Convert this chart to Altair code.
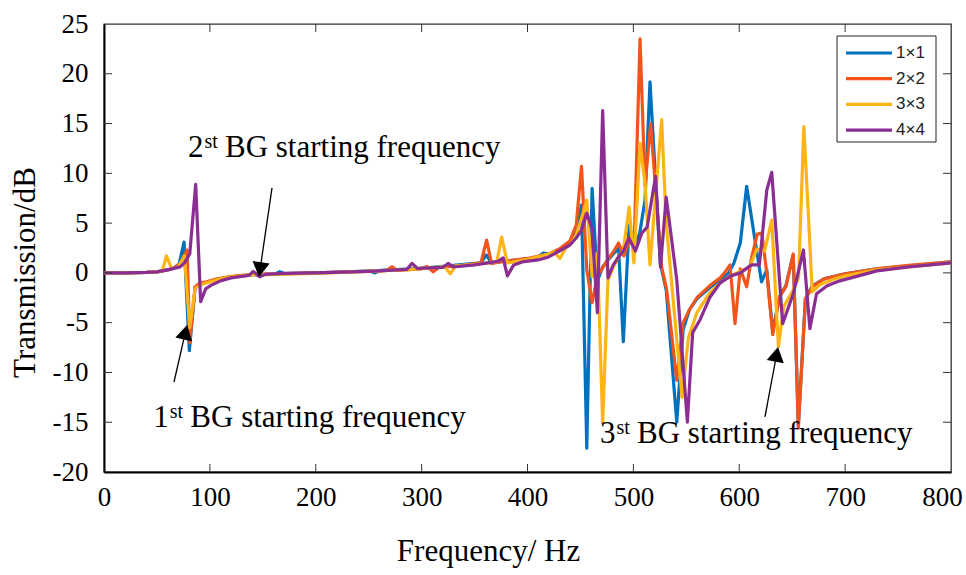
import altair as alt
import pandas as pd

series_names = ["1×1", "2×2", "3×3", "4×4"]
series_colors = ["#0072BD", "#F2541B", "#FDB515", "#8A2E93"]

# (frequency Hz, transmission dB)
pts_1x1 = [(0,0.0),(20,0.0),(40,0.05),(50,0.1),(60,0.3),(66,0.5),(71,0.9),(75.6,3.1),(80.6,-7.8),(86,-1.5),(91,-1.1),(97,-0.95),(105,-0.7),(115,-0.5),(125,-0.35),(140,-0.2),(161,-0.12),(166,0.12),(171,-0.08),(200,0.0),(230,0.1),(251,0.2),(256,0.0),(261,0.25),(300,0.45),(340,0.85),(356,1.0),(361,1.8),(366,1.0),(380,1.2),(400,1.4),(410,1.6),(415,2.0),(420,1.9),(430,2.3),(440,3.0),(446,4.2),(451,6.8),(456,-17.6),(461,8.5),(466,-0.8),(471,0.6),(476,1.3),(481,1.9),(486,2.5),(490.5,-6.9),(496,4.8),(501,2.5),(506,4.0),(511,7.3),(515.7,19.2),(525.5,0.9),(531,-1.7),(541,-15.0),(547,-5.7),(553,-3.7),(560,-2.6),(572,-1.5),(582,-0.7),(590,0.0),(595,1.0),(601,3.0),(607,8.7),(621,-0.9),(626,0.3),(631.6,-5.9),(638,-2.4),(644,-1.3),(651,1.8),(655.8,-15.3),(662.5,-2.6),(669,-1.3),(680,-0.6),(700,-0.1),(730,0.4),(760,0.7),(800,1.1)]

pts_2x2 = [(0,0.0),(20,0.0),(40,0.05),(50,0.1),(60,0.3),(66,0.5),(72,0.9),(78.5,2.3),(81,-7.0),(86,-1.4),(91,-1.0),(97,-0.9),(105,-0.65),(115,-0.45),(125,-0.3),(140,-0.15),(200,0.0),(230,0.1),(262,0.2),(267,0.25),(272,0.6),(277,0.25),(300,0.4),(305,0.65),(311,0.1),(316,0.55),(340,0.75),(356,1.0),(361.4,3.3),(366,0.95),(380,1.2),(400,1.45),(420,1.9),(430,2.4),(440,3.2),(446,4.8),(451,10.7),(456,0.3),(461,-3.0),(466,-0.3),(471.6,0.6),(476,1.4),(481,2.1),(486,3.0),(491,1.7),(496,3.2),(501,3.8),(506.3,23.5),(511,8.7),(516.3,15.0),(526.7,0.6),(531.5,-1.7),(541,-10.8),(547,-5.0),(553,-3.7),(560,-2.5),(572,-1.3),(582,-0.5),(586,0.0),(591.3,0.8),(596,-5.1),(601,0.4),(607,-1.4),(611.6,1.5),(617,3.9),(621.3,4.0),(626,0.0),(631.6,-6.2),(638,-2.4),(644,-1.4),(651,1.9),(655.8,-15.6),(662.5,-2.6),(669,-1.4),(680,-0.6),(700,-0.1),(730,0.4),(760,0.75),(800,1.1)]

pts_3x3 = [(0,0.0),(20,0.0),(40,0.05),(50,0.1),(55,0.2),(59,1.7),(64,0.4),(70,0.6),(76,1.7),(81,-5.5),(86,-1.6),(91,-1.2),(97,-1.0),(105,-0.75),(115,-0.5),(125,-0.35),(140,-0.2),(200,-0.05),(250,0.15),(290,0.35),(300,0.45),(322,0.6),(327,-0.1),(332,0.7),(350,0.85),(371,1.1),(375.6,3.6),(381,1.0),(400,1.35),(420,1.9),(425,2.1),(430.7,1.45),(436,2.5),(441,2.9),(446,3.8),(451,5.5),(456,7.3),(461,-0.4),(466,2.0),(471,-15.1),(476,-0.7),(481,0.6),(487,1.8),(490.5,2.3),(496,6.6),(500.5,1.0),(506.3,13.0),(511,9.0),(515.7,0.8),(526.7,15.4),(531,5.0),(546,-12.5),(552,-6.5),(560,-4.0),(572,-2.0),(582,-1.0),(590,-0.4),(600,0.1),(610,0.6),(616.6,2.4),(624,2.2),(630.7,5.3),(637,-7.4),(642,-3.4),(651,-1.7),(656,-0.5),(661,14.7),(669,-1.9),(676,-1.2),(690,-0.6),(700,-0.3),(730,0.3),(760,0.6),(800,1.0)]

pts_4x4 = [(0,0.0),(20,0.0),(40,0.05),(50,0.1),(60,0.3),(66,0.45),(72,0.6),(76,1.0),(81,1.9),(86.6,8.9),(91.3,-2.9),(96,-1.6),(101,-1.25),(110,-0.8),(120,-0.5),(130,-0.35),(137,-0.25),(141,0.15),(147,-0.4),(152,-0.15),(170,-0.05),(200,0.0),(250,0.15),(286,0.35),(291,0.95),(296,0.45),(320,0.55),(325,0.95),(330,0.6),(350,0.8),(372,1.15),(377,1.5),(381,-0.3),(387,0.8),(395,1.1),(410,1.3),(420,1.6),(430,2.2),(440,2.8),(446,3.5),(451,4.3),(456,6.0),(461,4.4),(466,-4.0),(471,16.3),(476,-0.5),(481,0.8),(486,1.6),(491,2.3),(495.6,3.5),(502,2.2),(508,4.0),(513,4.6),(521,9.7),(525.6,0.6),(531,7.6),(541,-0.7),(551,-15.0),(556,-6.0),(563,-4.7),(572,-2.5),(582,-1.0),(592,-0.3),(601,0.0),(611.6,0.8),(619,0.8),(626,8.3),(630.7,10.1),(641,-5.1),(651,-2.1),(660.6,2.3),(666.7,-5.6),(673,-2.1),(683,-1.3),(695,-0.8),(730,0.2),(760,0.6),(800,1.0)]

series_points = [pts_1x1, pts_2x2, pts_3x3, pts_4x4]

x_ticks = [0, 100, 200, 300, 400, 500, 600, 700, 800]
y_ticks = [-20, -15, -10, -5, 0, 5, 10, 15, 20, 25]

# annotations (data coordinates)
ann_num = ["1", "2", "3"]
ann_x = [46.6, 79.3, 468.5]
ann_y = [-15.45, 11.64, -17.12]
arrow_tail_x = [66.1, 158.7, 624.3]
arrow_tail_y = [-10.96, 8.53, -14.47]
arrow_head_x = [76.9, 147.4, 635.3]
arrow_head_y = [-5.96, 0.32, -8.18]
arrow_angle = [12.8, 188.3, 10.5]

W, H = 847, 448
SERIF = "Liberation Serif"

x_scale = alt.Scale(domain=[0, 800], nice=False, zero=False)
y_scale = alt.Scale(domain=[-20, 25], nice=False, zero=False)

x_axis = alt.Axis(values=x_ticks, title="Frequency/ Hz", ticks=False, grid=False,
                  labelFont=SERIF, labelFontSize=27, labelColor="black", labelPadding=12,
                  labelExpr="'' + datum.value", labelFlush=False,
                  labelOffset={"condition": {"test": "datum.value == 800", "value": -9}, "value": 0},
                  titleFont=SERIF, titleFontSize=31, titleFontWeight="normal", titleColor="black",
                  titleX=384, titleY=88, titleBaseline="alphabetic", titleAlign="center",
                  domainColor="black", domainWidth=2)
y_axis = alt.Axis(values=y_ticks, title="Transmission/dB", ticks=False, grid=False,
                  labelFont=SERIF, labelFontSize=27, labelColor="black", labelPadding=16,
                  labelExpr="'' + datum.value", labelFlush=False,
                  titleFont=SERIF, titleFontSize=31, titleFontWeight="normal", titleColor="black",
                  titleX=-70, titleY=248, titleAngle=270, titleBaseline="alphabetic", titleAlign="center",
                  domainColor="black", domainWidth=2)


def X(field):
    return alt.X(field, scale=x_scale, axis=x_axis)


def Y(field):
    return alt.Y(field, scale=y_scale, axis=y_axis)


layers = []
for name, color, pts in zip(series_names, series_colors, series_points):
    df = pd.DataFrame({"freq": [p[0] for p in pts], "tl": [p[1] for p in pts]})
    df["series"] = name
    layers.append(
        alt.Chart(df).mark_line(color=color, strokeWidth=3.2, strokeJoin="round").encode(
            x=X("freq:Q"), y=Y("tl:Q"))
    )

xt = pd.DataFrame({"v": x_ticks[1:-1]})
yt = pd.DataFrame({"v": y_ticks[1:-1]})
tick_color = "#333333"
layers.append(alt.Chart(xt).mark_rule(color=tick_color, strokeWidth=1).encode(
    x=X("v:Q"), y=alt.value(H), y2=alt.value(H - 8)))
layers.append(alt.Chart(xt).mark_rule(color=tick_color, strokeWidth=1).encode(
    x=X("v:Q"), y=alt.value(0), y2=alt.value(8)))
layers.append(alt.Chart(yt).mark_rule(color=tick_color, strokeWidth=1).encode(
    y=Y("v:Q"), x=alt.value(0), x2=alt.value(8)))
layers.append(alt.Chart(yt).mark_rule(color=tick_color, strokeWidth=1).encode(
    y=Y("v:Q"), x=alt.value(W - 8), x2=alt.value(W)))

ann = pd.DataFrame({"num": ann_num, "ax": ann_x, "ay": ann_y,
                    "tx": arrow_tail_x, "ty": arrow_tail_y,
                    "hx": arrow_head_x, "hy": arrow_head_y, "ang": arrow_angle})
layers.append(alt.Chart(ann).mark_rule(color="black", strokeWidth=1.3).encode(
    x=X("tx:Q"), y=Y("ty:Q"), x2="hx:Q", y2="hy:Q"))
layers.append(alt.Chart(ann).mark_point(shape="triangle-up", filled=True, color="black",
                                        size=300, opacity=1).encode(
    x=X("hx:Q"), y=Y("hy:Q"), angle=alt.Angle("ang:Q", scale=None)))
txt_common = dict(align="left", baseline="alphabetic", font=SERIF, color="black")
layers.append(alt.Chart(ann).mark_text(fontSize=31, **txt_common).encode(
    x=X("ax:Q"), y=Y("ay:Q"), text="num:N"))
layers.append(alt.Chart(ann).mark_text(fontSize=20, dx=16.5, dy=-9, text="st", **txt_common).encode(
    x=X("ax:Q"), y=Y("ay:Q")))
layers.append(alt.Chart(ann).mark_text(fontSize=31, dx=37, text="BG starting frequency", **txt_common).encode(
    x=X("ax:Q"), y=Y("ay:Q")))

# legend (drawn manually)
one = pd.DataFrame({"k": [0]})
layers.append(alt.Chart(one).mark_rect(fill="white", stroke="#222", strokeWidth=1).encode(
    x=alt.value(733), x2=alt.value(832), y=alt.value(12), y2=alt.value(118)))
for i, (name, color) in enumerate(zip(series_names, series_colors)):
    yy = 29 + i * 25.7
    layers.append(alt.Chart(one).mark_rule(color=color, strokeWidth=3.2).encode(
        x=alt.value(742), x2=alt.value(788), y=alt.value(yy)))
    layers.append(alt.Chart(one).mark_text(text=name, align="left", baseline="middle",
                                          font="Liberation Sans", fontSize=17, color="#222").encode(
        x=alt.value(792), y=alt.value(yy)))

chart = alt.layer(*layers).properties(
    width=W, height=H,
    padding={"left": 104, "top": 24, "right": 15, "bottom": 103},
    autosize=alt.AutoSizeParams(type="none"),
    background="white",
).configure_view(stroke="#333333", strokeWidth=1.3)

chart.save("out.html", embed_options={"renderer": "svg", "actions": False})
